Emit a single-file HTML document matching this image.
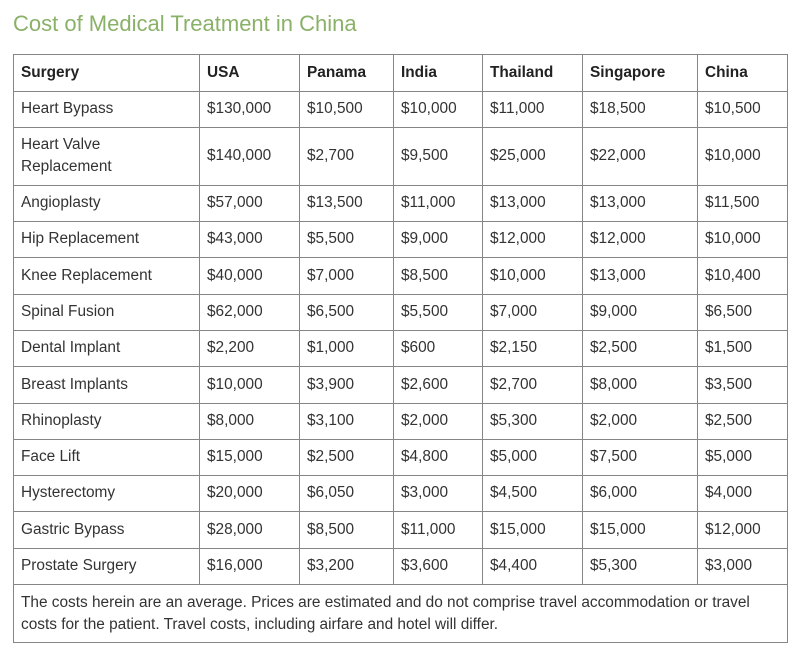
<!DOCTYPE html>
<html>
<head>
<meta charset="utf-8">
<style>
  html,body{margin:0;padding:0;background:#fff;}
  body{width:800px;height:650px;position:relative;overflow:hidden;font-family:"Liberation Sans",Arial,sans-serif;color:#333;}
  .title{position:absolute;left:13px;top:13px;font-size:22px;line-height:22px;color:#8ab168;white-space:nowrap;}
  .h{position:absolute;left:13px;width:775px;height:1px;background:#858585;}
  .v{position:absolute;top:54px;width:1px;height:530px;background:#858585;}
  .row{position:absolute;left:13px;width:775px;}
  .c{position:absolute;top:0px;font-size:15.4px;white-space:nowrap;padding-left:8px;}
  .b{font-weight:bold;color:#222;}
  .c0{left:0;} .c1{left:186px;} .c2{left:286px;} .c3{left:380px;} .c4{left:469px;} .c5{left:569px;} .c6{left:684px;}
  .foot{position:absolute;left:21px;top:592px;font-size:15.4px;line-height:22px;white-space:nowrap;}
</style>
</head>
<body>
<div class="title">Cost of Medical Treatment in China</div>

<div class="h" style="top:54px"></div>
<div class="h" style="top:91px"></div>
<div class="h" style="top:127px"></div>
<div class="h" style="top:185px"></div>
<div class="h" style="top:221px"></div>
<div class="h" style="top:257px"></div>
<div class="h" style="top:294px"></div>
<div class="h" style="top:330px"></div>
<div class="h" style="top:366px"></div>
<div class="h" style="top:403px"></div>
<div class="h" style="top:439px"></div>
<div class="h" style="top:475px"></div>
<div class="h" style="top:511px"></div>
<div class="h" style="top:548px"></div>
<div class="h" style="top:584px"></div>
<div class="h" style="top:642px"></div>

<div class="v" style="left:13px;height:589px"></div>
<div class="v" style="left:199px"></div>
<div class="v" style="left:299px"></div>
<div class="v" style="left:393px"></div>
<div class="v" style="left:482px"></div>
<div class="v" style="left:582px"></div>
<div class="v" style="left:697px"></div>
<div class="v" style="left:787px;height:589px"></div>

<div class="row" style="top:54px;height:37px">
  <div class="c c0 b" style="line-height:37px">Surgery</div>
  <div class="c c1 b" style="line-height:37px">USA</div>
  <div class="c c2 b" style="line-height:37px">Panama</div>
  <div class="c c3 b" style="line-height:37px">India</div>
  <div class="c c4 b" style="line-height:37px">Thailand</div>
  <div class="c c5 b" style="line-height:37px">Singapore</div>
  <div class="c c6 b" style="line-height:37px">China</div>
</div>

<div class="row" style="top:91px;height:36px">
  <div class="c c0" style="line-height:36px">Heart Bypass</div>
  <div class="c c1" style="line-height:36px">$130,000</div>
  <div class="c c2" style="line-height:36px">$10,500</div>
  <div class="c c3" style="line-height:36px">$10,000</div>
  <div class="c c4" style="line-height:36px">$11,000</div>
  <div class="c c5" style="line-height:36px">$18,500</div>
  <div class="c c6" style="line-height:36px">$10,500</div>
</div>

<div class="row" style="top:127px;height:58px">
  <div class="c c0" style="line-height:22px;top:7px">Heart Valve<br>Replacement</div>
  <div class="c c1" style="line-height:58px">$140,000</div>
  <div class="c c2" style="line-height:58px">$2,700</div>
  <div class="c c3" style="line-height:58px">$9,500</div>
  <div class="c c4" style="line-height:58px">$25,000</div>
  <div class="c c5" style="line-height:58px">$22,000</div>
  <div class="c c6" style="line-height:58px">$10,000</div>
</div>

<div class="row" style="top:185px;height:36px">
  <div class="c c0" style="line-height:36px">Angioplasty</div>
  <div class="c c1" style="line-height:36px">$57,000</div>
  <div class="c c2" style="line-height:36px">$13,500</div>
  <div class="c c3" style="line-height:36px">$11,000</div>
  <div class="c c4" style="line-height:36px">$13,000</div>
  <div class="c c5" style="line-height:36px">$13,000</div>
  <div class="c c6" style="line-height:36px">$11,500</div>
</div>

<div class="row" style="top:221px;height:36px">
  <div class="c c0" style="line-height:36px">Hip Replacement</div>
  <div class="c c1" style="line-height:36px">$43,000</div>
  <div class="c c2" style="line-height:36px">$5,500</div>
  <div class="c c3" style="line-height:36px">$9,000</div>
  <div class="c c4" style="line-height:36px">$12,000</div>
  <div class="c c5" style="line-height:36px">$12,000</div>
  <div class="c c6" style="line-height:36px">$10,000</div>
</div>

<div class="row" style="top:257px;height:37px">
  <div class="c c0" style="line-height:37px">Knee Replacement</div>
  <div class="c c1" style="line-height:37px">$40,000</div>
  <div class="c c2" style="line-height:37px">$7,000</div>
  <div class="c c3" style="line-height:37px">$8,500</div>
  <div class="c c4" style="line-height:37px">$10,000</div>
  <div class="c c5" style="line-height:37px">$13,000</div>
  <div class="c c6" style="line-height:37px">$10,400</div>
</div>

<div class="row" style="top:294px;height:36px">
  <div class="c c0" style="line-height:36px">Spinal Fusion</div>
  <div class="c c1" style="line-height:36px">$62,000</div>
  <div class="c c2" style="line-height:36px">$6,500</div>
  <div class="c c3" style="line-height:36px">$5,500</div>
  <div class="c c4" style="line-height:36px">$7,000</div>
  <div class="c c5" style="line-height:36px">$9,000</div>
  <div class="c c6" style="line-height:36px">$6,500</div>
</div>

<div class="row" style="top:330px;height:36px">
  <div class="c c0" style="line-height:36px">Dental Implant</div>
  <div class="c c1" style="line-height:36px">$2,200</div>
  <div class="c c2" style="line-height:36px">$1,000</div>
  <div class="c c3" style="line-height:36px">$600</div>
  <div class="c c4" style="line-height:36px">$2,150</div>
  <div class="c c5" style="line-height:36px">$2,500</div>
  <div class="c c6" style="line-height:36px">$1,500</div>
</div>

<div class="row" style="top:366px;height:37px">
  <div class="c c0" style="line-height:37px">Breast Implants</div>
  <div class="c c1" style="line-height:37px">$10,000</div>
  <div class="c c2" style="line-height:37px">$3,900</div>
  <div class="c c3" style="line-height:37px">$2,600</div>
  <div class="c c4" style="line-height:37px">$2,700</div>
  <div class="c c5" style="line-height:37px">$8,000</div>
  <div class="c c6" style="line-height:37px">$3,500</div>
</div>

<div class="row" style="top:403px;height:36px">
  <div class="c c0" style="line-height:36px">Rhinoplasty</div>
  <div class="c c1" style="line-height:36px">$8,000</div>
  <div class="c c2" style="line-height:36px">$3,100</div>
  <div class="c c3" style="line-height:36px">$2,000</div>
  <div class="c c4" style="line-height:36px">$5,300</div>
  <div class="c c5" style="line-height:36px">$2,000</div>
  <div class="c c6" style="line-height:36px">$2,500</div>
</div>

<div class="row" style="top:439px;height:36px">
  <div class="c c0" style="line-height:36px">Face Lift</div>
  <div class="c c1" style="line-height:36px">$15,000</div>
  <div class="c c2" style="line-height:36px">$2,500</div>
  <div class="c c3" style="line-height:36px">$4,800</div>
  <div class="c c4" style="line-height:36px">$5,000</div>
  <div class="c c5" style="line-height:36px">$7,500</div>
  <div class="c c6" style="line-height:36px">$5,000</div>
</div>

<div class="row" style="top:475px;height:36px">
  <div class="c c0" style="line-height:36px">Hysterectomy</div>
  <div class="c c1" style="line-height:36px">$20,000</div>
  <div class="c c2" style="line-height:36px">$6,050</div>
  <div class="c c3" style="line-height:36px">$3,000</div>
  <div class="c c4" style="line-height:36px">$4,500</div>
  <div class="c c5" style="line-height:36px">$6,000</div>
  <div class="c c6" style="line-height:36px">$4,000</div>
</div>

<div class="row" style="top:511px;height:37px">
  <div class="c c0" style="line-height:37px">Gastric Bypass</div>
  <div class="c c1" style="line-height:37px">$28,000</div>
  <div class="c c2" style="line-height:37px">$8,500</div>
  <div class="c c3" style="line-height:37px">$11,000</div>
  <div class="c c4" style="line-height:37px">$15,000</div>
  <div class="c c5" style="line-height:37px">$15,000</div>
  <div class="c c6" style="line-height:37px">$12,000</div>
</div>

<div class="row" style="top:548px;height:36px">
  <div class="c c0" style="line-height:36px">Prostate Surgery</div>
  <div class="c c1" style="line-height:36px">$16,000</div>
  <div class="c c2" style="line-height:36px">$3,200</div>
  <div class="c c3" style="line-height:36px">$3,600</div>
  <div class="c c4" style="line-height:36px">$4,400</div>
  <div class="c c5" style="line-height:36px">$5,300</div>
  <div class="c c6" style="line-height:36px">$3,000</div>
</div>

<div class="foot">The costs herein are an average. Prices are estimated and do not comprise travel accommodation or travel<br>costs for the patient. Travel costs, including airfare and hotel will differ.</div>
</body>
</html>
